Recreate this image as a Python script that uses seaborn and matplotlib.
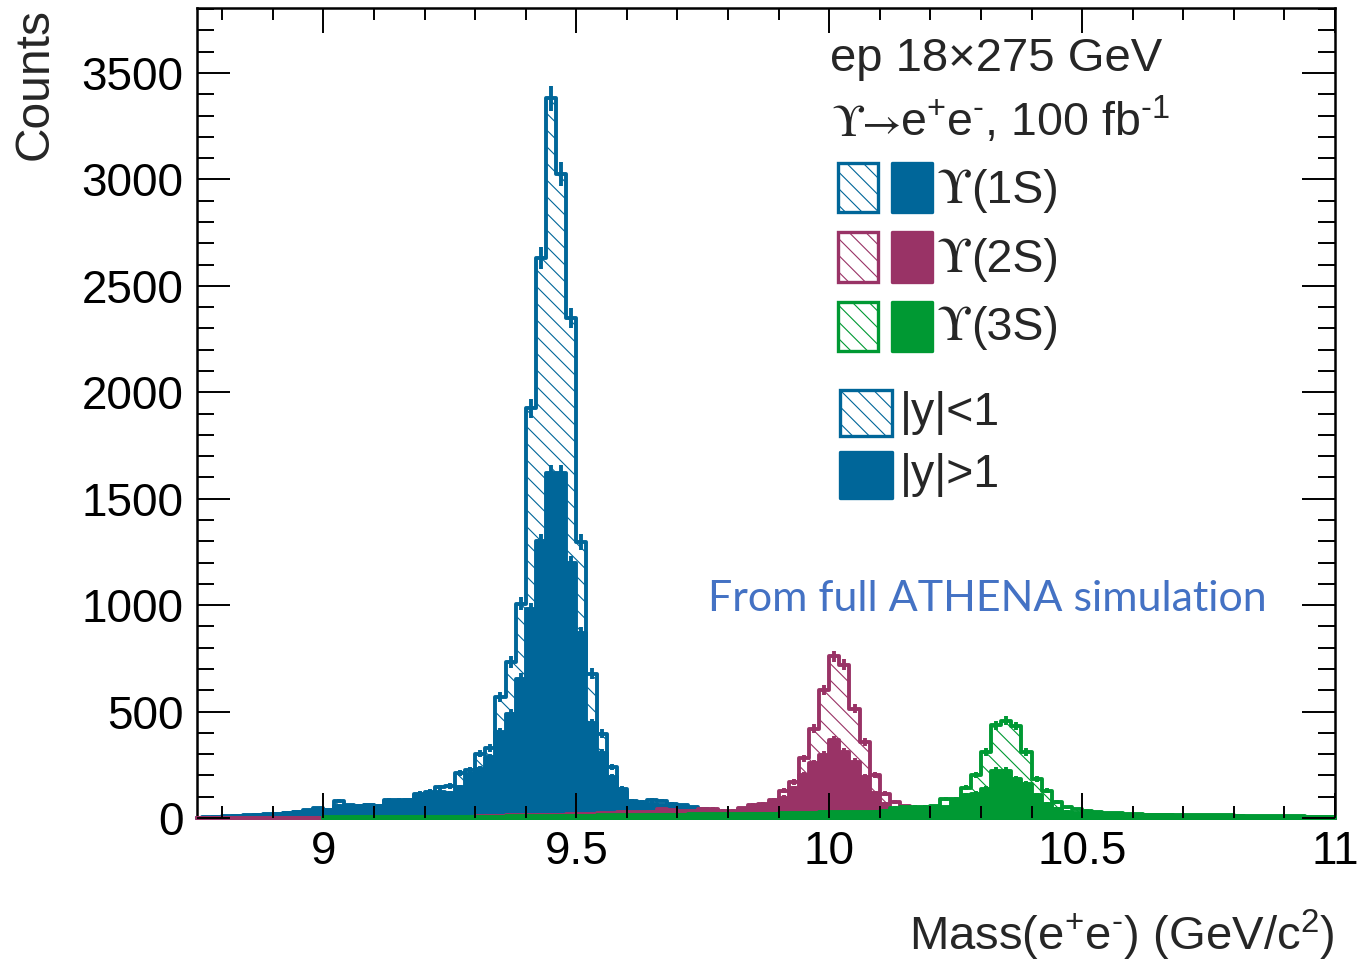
import numpy as np
import pandas as pd
import matplotlib
matplotlib.use("Agg")
import matplotlib.pyplot as plt
import seaborn as sns
from matplotlib.patches import Rectangle
from matplotlib.ticker import MultipleLocator

# ------------------------------------------------------------------ data
bin_width = 0.02
first_edge = 8.76
last_edge = 11.00
x_lo, x_hi = 8.75, 11.0
y_hi = 3805

x_ticks = [9.0, 9.5, 10.0, 10.5, 11.0]
x_tick_labels = ["9", "9.5", "10", "10.5", "11"]
y_ticks = [0, 500, 1000, 1500, 2000, 2500, 3000, 3500]

# Upsilon(1S): counts per 0.02 GeV bin, first bin starts at 8.76
ups1s_start = 8.76
ups1s_central = [3, 5, 8, 10, 12, 15, 18, 20, 24, 28, 36, 46,
                 38, 80, 60, 57, 63, 58, 86, 85, 86, 114, 124, 145, 150,
                 212, 224, 302, 330, 568, 732, 1007, 1925, 2630, 3380, 3025,
                 2348, 1296, 678, 396, 240, 137, 79, 77, 86, 82, 68, 59, 51,
                 42, 36, 30, 26, 22, 18, 15, 12, 10, 8, 6, 5, 4, 3]
ups1s_forward = [2, 4, 6, 8, 10, 13, 16, 18, 22, 26, 33, 42,
                 36, 58, 58, 55, 60, 55, 82, 82, 83, 108, 118, 121, 118,
                 145, 205, 231, 286, 403, 490, 654, 980, 1300, 1620, 1620,
                 1196, 868, 445, 305, 194, 120, 68, 62, 66, 60, 52, 46, 40,
                 34, 30, 25, 21, 18, 15, 12, 10, 8, 6, 5, 4, 3, 2]

# Upsilon(2S): first bin starts at 9.30
ups2s_start = 9.30
ups2s_central = [8, 10, 10, 12, 12, 14, 14, 16, 16, 18, 18, 20, 22, 24, 26,
                 27, 27, 28, 40, 38, 32, 32, 43, 43, 35, 35, 47, 62, 66, 85,
                 128, 168, 280, 419, 600, 759, 720, 514, 357, 200, 114, 75,
                 55, 42, 32, 25, 20, 16, 13, 10, 8, 6, 5, 4, 3, 2]
ups2s_forward = [6, 8, 8, 9, 10, 11, 12, 13, 14, 15, 15, 17, 18, 20, 22,
                 23, 23, 30, 33, 30, 28, 28, 36, 36, 30, 30, 40, 52, 56, 72,
                 96, 140, 200, 257, 296, 367, 312, 265, 194, 116, 68, 40,
                 30, 24, 18, 14, 11, 9, 7, 6, 5, 4, 3, 2, 2, 1]

# Upsilon(3S): first bin starts at 9.00
ups3s_start = 9.00
ups3s_central = [3, 3, 3, 4, 4, 4, 4, 5, 5, 5, 5, 6, 6, 6, 6, 7, 7, 7, 8, 8,
                 8, 9, 9, 10, 10, 11, 11, 12, 12, 13,
                 13, 14, 14, 15, 15, 16, 17, 17, 18, 19,
                 19, 20, 20, 21, 21, 22, 23, 24, 25, 26,
                 26, 27, 28, 28, 30, 35, 48, 50, 52, 52,
                 55, 90, 90, 142, 203, 309, 435, 458, 432, 309,
                 185, 129, 74, 51, 42, 35, 28, 23, 23, 20,
                 18, 16, 16, 15, 15, 14, 13, 13, 12, 12,
                 11, 10, 10, 9, 9, 8, 8, 7, 7, 6]
ups3s_forward = [2, 2, 2, 3, 3, 3, 3, 4, 4, 4, 4, 5, 5, 5, 5, 6, 6, 6, 6, 6,
                 7, 7, 7, 8, 8, 9, 9, 10, 10, 10,
                 11, 11, 12, 12, 13, 13, 14, 14, 15, 15,
                 16, 16, 17, 17, 18, 18, 19, 19, 20, 21,
                 22, 22, 23, 24, 25, 28, 36, 42, 46, 48,
                 52, 51, 79, 106, 114, 137, 223, 223, 184, 161,
                 106, 67, 43, 30, 25, 22, 20, 18, 17, 15,
                 14, 13, 12, 12, 11, 10, 10, 9, 9, 8,
                 8, 7, 7, 6, 6, 5, 5, 5, 4, 4]

series_states = ["(1S)", "(2S)", "(3S)"]
colors = ["#006699", "#993366", "#009933"]
annot_color = "#4472C4"

# ------------------------------------------------------------------ style
sns.set_style("ticks")
plt.rcParams["font.family"] = ["Liberation Sans", "DejaVu Sans"]
plt.rcParams["mathtext.fontset"] = "custom"
plt.rcParams["mathtext.rm"] = "Liberation Sans"
plt.rcParams["mathtext.it"] = "Liberation Sans:italic"
plt.rcParams["mathtext.bf"] = "Liberation Sans:bold"
plt.rcParams["mathtext.fallback"] = "stix"
plt.rcParams["hatch.linewidth"] = 0.8

W, H = 1361, 960
fig = plt.figure(figsize=(W / 100, H / 100), dpi=100)
L, R, T, B = 197, 1335, 8, 818
ax = fig.add_axes([L / W, 1 - B / H, (R - L) / W, (B - T) / H])

LW = 2.8
n_main = int(round((last_edge - first_edge) / bin_width))
main_edges = np.round(first_edge + bin_width * np.arange(n_main + 1), 2)


def make_hist(start, values, full_range=True):
    if full_range:
        edges = np.concatenate([[x_lo], main_edges])
    else:
        edges = main_edges[main_edges >= start - 1e-9]
    counts = np.zeros(len(edges) - 1)
    idx = int(np.argmin(np.abs(edges[:-1] - start)))
    counts[idx:idx + len(values)] = values
    return edges, counts


def draw(edges, counts, color, hatched, z):
    centers = 0.5 * (edges[:-1] + edges[1:])
    df = pd.DataFrame({"mass": centers, "counts": counts})
    bins = [float(b) for b in edges]
    if hatched:
        sns.histplot(data=df, x="mass", weights="counts", bins=bins, ax=ax,
                     common_bins=False, element="step", fill=True,
                     color=color, facecolor="none", edgecolor=color,
                     hatch="\\\\", linewidth=LW, zorder=z, clip_on=False)
    else:
        sns.histplot(data=df, x="mass", weights="counts", bins=bins, ax=ax,
                     common_bins=False, element="step", fill=True,
                     color=color, alpha=1, edgecolor=color, linewidth=LW,
                     zorder=z, clip_on=False)
    nz = counts > 0
    ax.errorbar(centers[nz], counts[nz], yerr=np.sqrt(counts[nz]), fmt="none",
                ecolor=color, elinewidth=LW, capsize=0, zorder=z + 0.01)


datasets = [
    (ups1s_start, ups1s_central, ups1s_forward, True),
    (ups2s_start, ups2s_central, ups2s_forward, True),
    (ups3s_start, ups3s_central, ups3s_forward, False),
]
z = 3.0
for (start, cen, fwd, full), col in zip(datasets, colors):
    e, c = make_hist(start, cen, full)
    draw(e, c, col, True, z)
    z += 0.1
    e, c = make_hist(start, fwd, full)
    draw(e, c, col, False, z)
    z += 0.1

# ------------------------------------------------------------------ axes
ax.set_xlim(x_lo, x_hi)
ax.set_ylim(0, y_hi)
ax.set_xlabel("")
ax.set_ylabel("")
ax.set_xticks(x_ticks)
ax.set_xticklabels(x_tick_labels)
ax.set_yticks(y_ticks)
ax.xaxis.set_minor_locator(MultipleLocator(0.1))
ax.yaxis.set_minor_locator(MultipleLocator(100))
for sp in ax.spines.values():
    sp.set_visible(True)
    sp.set_linewidth(1.8)
    sp.set_color("black")
ax.tick_params(axis="both", which="both", direction="in", top=True,
               right=True, colors="black", width=1.4, labelsize=33)
ax.tick_params(axis="x", which="major", length=18, pad=9)
ax.tick_params(axis="x", which="minor", length=8.5)
ax.tick_params(axis="y", which="major", length=24, pad=9.6)
ax.tick_params(axis="y", which="minor", length=12)
ax.xaxis.set_zorder(10)
ax.yaxis.set_zorder(10)

fig.text(35 / W, 1 - 8 / H, "Counts", rotation=90, ha="center", va="top",
         fontsize=34.5)
fig.text(1335 / W, 1 - 950 / H,
         r"Mass(e$^{+}$e$^{\text{-}}$) (GeV/c$^{2}$)",
         ha="right", va="baseline", fontsize=34)

# ------------------------------------------------------------------ legend
ov = fig.add_axes([0, 0, 1, 1], zorder=20)
ov.set_xlim(0, W)
ov.set_ylim(H, 0)
ov.axis("off")
ov.patch.set_alpha(0)

SYM = ["STIXGeneral", "DejaVu Sans"]
ov.text(830, 71, "ep 18×275 GeV", fontsize=34, va="baseline", ha="left")
ov.text(832, 136, "ϒ", fontsize=33, family=SYM, va="baseline", ha="left")
ov.text(862, 136, "→", fontsize=31, family=SYM, va="baseline", ha="left")
ov.text(900, 136, r"e$^{+}$e$^{\text{-}}$, 100 fb$^{\text{-}1}$",
        fontsize=33.5, va="baseline", ha="left")

rows_y = [(163, 212, 203), (232, 282, 272), (302, 351, 340)]
for (y0, y1, yb), col, st in zip(rows_y, colors, series_states):
    ov.add_patch(Rectangle((838, y0), 40, y1 - y0, facecolor="white",
                           edgecolor=col, hatch="\\\\", linewidth=2.4))
    ov.add_patch(Rectangle((892, y0), 40, y1 - y0, facecolor=col,
                           edgecolor=col, linewidth=2.4, joinstyle="round"))
    ov.text(937, yb, "ϒ", fontsize=35, family=SYM, va="baseline", ha="left")
    ov.text(971, yb, st, fontsize=33.5, va="baseline", ha="left")

ov.add_patch(Rectangle((840, 390), 52, 46, facecolor="white",
                       edgecolor=colors[0], hatch="\\\\", linewidth=2.4))
ov.add_patch(Rectangle((840, 452), 52, 46, facecolor=colors[0],
                       edgecolor=colors[0], linewidth=2.4, joinstyle="round"))
ov.text(900, 425, "|y|<1", fontsize=33.5, va="baseline", ha="left")
ov.text(900, 487, "|y|>1", fontsize=33.5, va="baseline", ha="left")

ov.text(708, 611, "From full ATHENA simulation", fontsize=31,
        family=["Lato", "DejaVu Sans"], color=annot_color, va="baseline",
        ha="left")

fig.savefig("out.png", dpi=100)
